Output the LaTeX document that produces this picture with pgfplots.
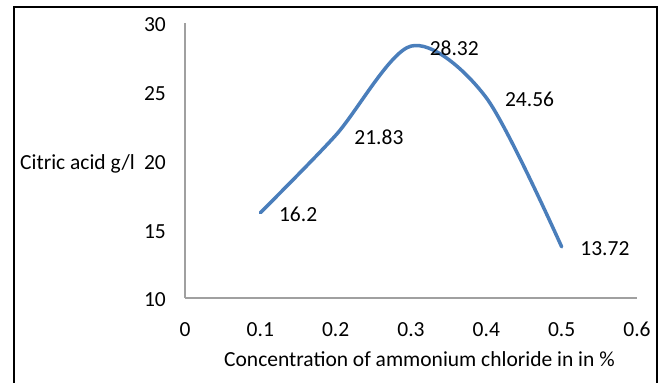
\documentclass[border=0pt]{standalone}
\usepackage{pgfplots}
\pgfplotsset{compat=1.18}
\usepackage{fontspec}
\setmainfont{Carlito}
\definecolor{lineblue}{RGB}{74,126,187}
\definecolor{axgray}{RGB}{160,160,160}
\newcommand{\chartfont}{\fontsize{21.5}{25}\selectfont}
\begin{document}
\begin{tikzpicture}[x=1pt,y=1pt]
\useasboundingbox (0,0) rectangle (665,383);
\begin{scope}
\clip (0,0) rectangle (665,383);
\draw[line width=1.4pt,black] (14,-20) rectangle (657,376);
\end{scope}
\begin{axis}[
  at={(185pt,85pt)}, anchor=south west,
  scale only axis, width=452pt, height=275pt,
  xmin=0, xmax=0.6, ymin=10, ymax=30,
  axis x line=bottom, axis y line=left,
  axis line style={-, draw=axgray, line width=1.2pt},
  major tick length=0pt,
  xtick={0,0.1,0.2,0.3,0.4,0.5,0.6},
  xticklabels={0,0.1,0.2,0.3,0.4,0.5,0.6},
  ytick={10,15,20,25,30},
  yticklabels={10,15,20,25,30},
  tick label style={font=\chartfont, inner sep=0pt},
  xticklabel style={anchor=north, yshift=-24pt},
  yticklabel style={anchor=east, xshift=-19pt, yshift=-2pt},
  clip=false,
  nodes near coords,
  point meta=explicit symbolic,
  every node near coord/.append style={anchor=west, inner sep=0pt, xshift=17pt, yshift=-2pt, font=\chartfont, black},
]
\addplot[smooth, tension=0.5, color=lineblue, line width=3.5pt, line cap=round] coordinates {
  (0.1,16.2) [16.2]
  (0.2,21.83) [21.83]
  (0.3,28.32) [28.32]
  (0.4,24.56) [24.56]
  (0.5,13.72) [13.72]
};
\end{axis}
\node[anchor=base east, inner sep=0pt, font=\chartfont] at (135,213) {Citric acid g/l};
\node[anchor=base, inner sep=0pt, font=\chartfont] at (419.5,16) {Concentration of ammonium chloride in in \%};
\end{tikzpicture}
\end{document}
